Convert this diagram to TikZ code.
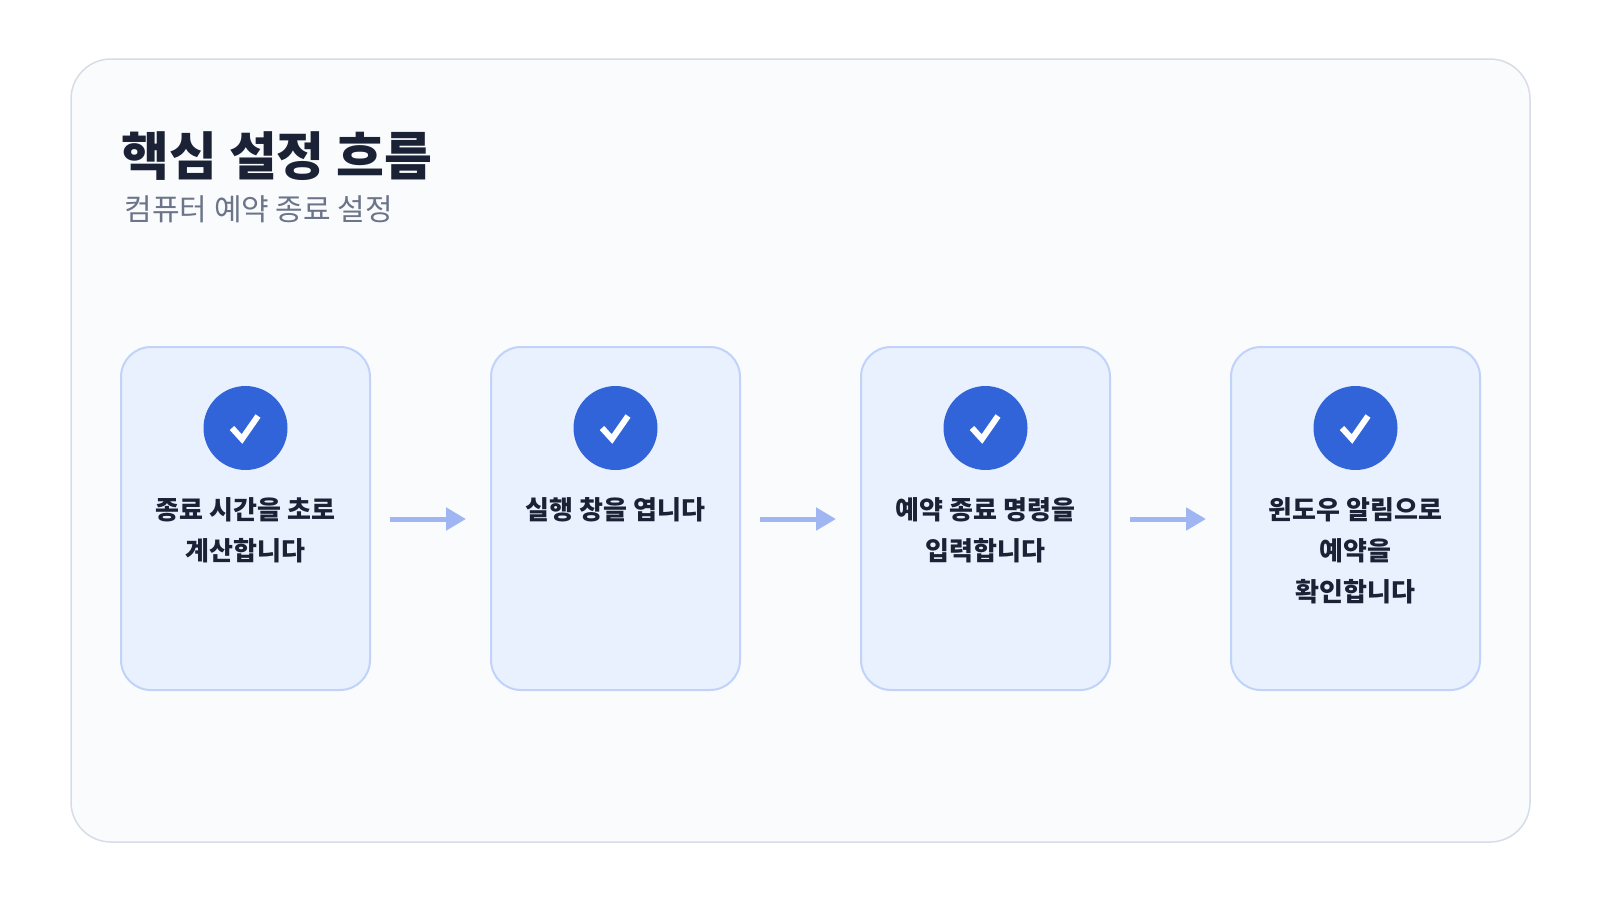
\documentclass[tikz,border=0pt]{standalone}
\usepackage{fontspec}
\setmainfont{Noto Sans CJK KR}
\usetikzlibrary{arrows.meta}
\definecolor{panelbg}{HTML}{F9FBFD}
\definecolor{panelline}{HTML}{D6DDE8}
\definecolor{cardbg}{HTML}{EAF1FE}
\definecolor{cardline}{HTML}{C1D3F8}
\definecolor{checkblue}{HTML}{3164D8}
\definecolor{arrowblue}{HTML}{A0B6F2}
\definecolor{inkdark}{HTML}{1B2235}
\definecolor{inkgrey}{HTML}{6B7489}

\begin{document}
\begin{tikzpicture}
[x=1pt,y=-1pt,
 card/.style={draw=cardline,line width=2pt,fill=cardbg,rounded corners=30pt},
 badge/.style={circle,fill=checkblue,minimum size=84pt,inner sep=0pt},
 steptext/.style={text=inkdark,font=\fontsize{26}{41}\selectfont\bfseries,align=center,anchor=north},
 flow/.style={draw=arrowblue,line width=5pt,-{Triangle[length=20pt,width=22pt]}}]

  \useasboundingbox (0,0) rectangle (1600,900);
  \draw[draw=panelline,line width=1.5pt,fill=panelbg,rounded corners=40pt] (71,59) rectangle (1530,842);

  \node[anchor=base west,text=inkdark,font=\fontsize{52}{60}\selectfont\bfseries] (title) at (118,175) {핵심 설정 흐름};
  \node[anchor=base west,text=inkgrey,font=\fontsize{30}{36}\selectfont] (subtitle) at (121,220) {컴퓨터 예약 종료 설정};

  \foreach \i/\txt in {0/{종료 시간을 초로\\계산합니다}, 1/{실행 창을 엽니다}, 2/{예약 종료 명령을\\입력합니다}, 3/{윈도우 알림으로\\예약을\\확인합니다}} {
    \draw[card] (121+370*\i,347) rectangle (370+370*\i,690);
    \node[badge] (b\i) at (245.5+370*\i,428) {};
    \draw[white,line width=6pt] (232+370*\i,428) -- (242+370*\i,439) -- (258+370*\i,416);
    \node[steptext] (s\i) at (245.5+370*\i,494) {\txt};
  }
  \foreach \i in {0,1,2} {
    \coordinate (a\i) at (390+370*\i,519);
    \coordinate (e\i) at (466+370*\i,519);
    \draw[flow] (a\i) -- (e\i);
  }

\end{tikzpicture}
\end{document}
